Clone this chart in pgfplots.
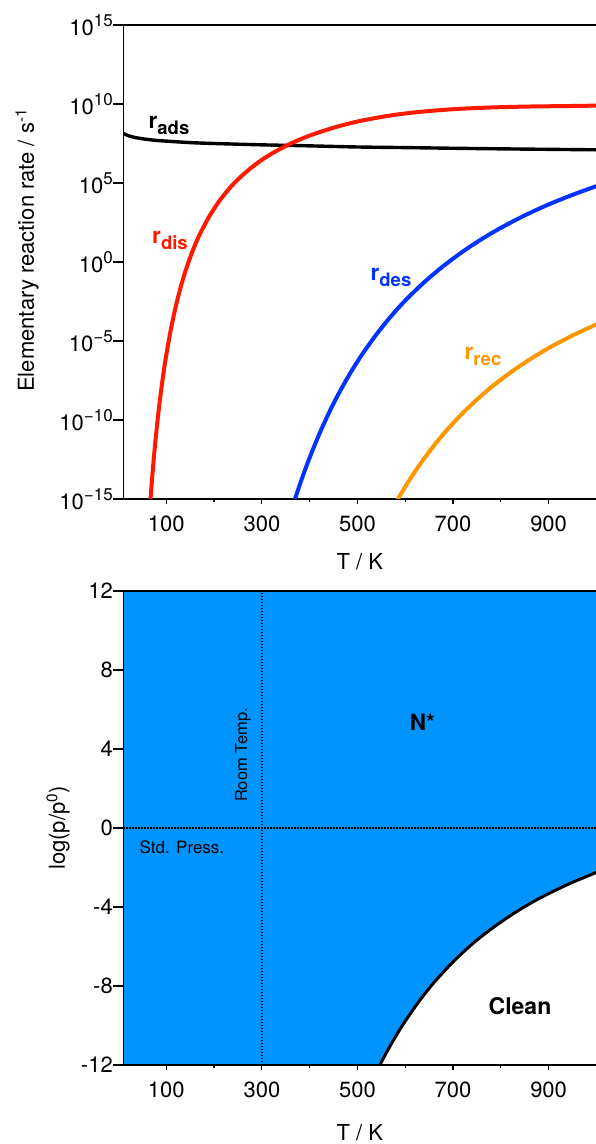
\documentclass[border=0pt]{standalone}
\usepackage{fontspec}
\setmainfont{TeX Gyre Heros}
\usepackage{pgfplots}
\pgfplotsset{compat=1.18}
\definecolor{cred}{RGB}{255,25,0}
\definecolor{cblue}{RGB}{0,51,255}
\definecolor{corange}{RGB}{255,150,0}
\definecolor{cfill}{RGB}{0,148,255}
\newcommand{\ex}[1]{10\raisebox{0.42em}{\fontsize{17}{17}\selectfont #1}}
\newcommand{\rr}[1]{r\raisebox{-0.26em}{\fontsize{18.5}{18.5}\selectfont #1}}
\pgfplotsset{
 base/.style={
  scale only axis, width=473.1pt, height=474pt,
  xmin=10, xmax=1000,
  xtick={100,300,500,700,900},
  minor xtick={200,400,600,800},
  ytick=\empty,
  tick align=outside, tick pos=left,
  major tick length=5pt, minor tick length=3pt,
  axis line style={line width=1.2pt},
  every tick/.style={black, line width=1.2pt},
  tick label style={font=\fontsize{22}{26}\selectfont},
  xticklabel style={yshift=-8pt},
  /pgf/number format/assume math mode=true,
  label style={font=\fontsize{22}{26}\selectfont},
  extra y tick style={major tick length=10pt, yticklabel style={xshift=3pt}},
 }
}
\begin{document}
\begin{tikzpicture}
\useasboundingbox (0,0) rectangle (595pt,1144pt);
% ---------------- top chart ----------------
\begin{axis}[base, at={(123.3pt,645pt)}, anchor=south west,
  ymode=log, ymin=1e-15, ymax=1e15,
  extra y ticks={1e-15,1e-10,1e-5,1,1e5,1e10,1e15},
  extra y tick labels={\ex{−15},\ex{−10},\ex{−5},\ex{0},\ex{5},\ex{10},\ex{15}},
  xlabel={T / K},
  xlabel style={at={(axis description cs:0.5,-0.133)}, anchor=center},
  ylabel={Elementary reaction rate / s\textsuperscript{-1}},
  ylabel style={at={(axis description cs:-0.2035,0.525)}, anchor=center},
]
\addplot[black, line width=3.4pt, smooth] coordinates {
(10,1.41e8) (15,1.16e8) (20,1.0e8) (30,8.1e7) (50,6.3e7) (75,5.1e7) (100,4.47e7)
(150,3.6e7) (200,3.16e7) (300,2.6e7) (400,2.24e7) (500,1.9e7) (600,1.74e7)
(700,1.58e7) (800,1.45e7) (900,1.35e7) (1000,1.26e7)};
\addplot[cred, line width=4pt, smooth] coordinates {
(65,1.48e-16) (68,2.63e-15) (72,8.71e-14) (76,1.95e-12) (80,3.16e-11) (85,7.41e-10)
(90,1.17e-8) (95,1.45e-7) (100,1.35e-6) (110,6.46e-5) (120,1.62e-3) (130,2.51e-2)
(140,0.263) (155,5.01) (170,56.2) (190,776) (210,6.61e3) (235,5.75e4) (260,3.24e5)
(290,1.78e6) (320,7.08e6) (360,3.09e7) (400,1.0e8) (450,3.16e8) (500,7.76e8)
(560,1.70e9) (620,2.95e9) (700,4.68e9) (780,6.03e9) (860,6.92e9) (940,7.41e9) (1000,7.9e9)};
\addplot[cblue, line width=4pt, smooth] coordinates {
(355,3.89e-17) (370,1.15e-15) (385,2.51e-14) (400,4.17e-13) (420,1.26e-11) (440,2.69e-10)
(460,4.27e-9) (485,9.33e-8) (510,1.45e-6) (540,2.69e-5) (570,3.63e-4) (600,3.63e-3)
(640,5.37e-2) (680,0.562) (720,4.47) (760,28.2) (800,145) (850,891) (900,4.37e3)
(950,1.78e4) (1000,6.31e4)};
\addplot[corange, line width=4pt, smooth] coordinates {
(570,1.58e-16) (585,1.02e-15) (600,6.03e-15) (620,5.25e-14) (640,3.80e-13) (665,3.72e-12)
(690,2.88e-11) (720,2.69e-10) (750,1.95e-9) (780,1.20e-8) (820,1.0e-7) (860,6.61e-7)
(900,3.55e-6) (950,2.24e-5) (1000,1.12e-4)};
\node[font=\bfseries\fontsize{22.5}{26}\selectfont, text=black] at (rel axis cs:0.0966,0.789) {\rr{ads}};
\node[font=\bfseries\fontsize{22.5}{26}\selectfont, text=cred] at (rel axis cs:0.0987,0.5464) {\rr{dis}};
\node[font=\bfseries\fontsize{22.5}{26}\selectfont, text=cblue] at (rel axis cs:0.5658,0.4673) {\rr{des}};
\node[font=\bfseries\fontsize{22.5}{26}\selectfont, text=corange] at (rel axis cs:0.7603,0.3002) {\rr{rec}};
\end{axis}
% ---------------- bottom chart ----------------
\begin{axis}[base, at={(123.3pt,79pt)}, anchor=south west,
  ymin=-12, ymax=12,
  axis on top,
  axis background/.style={fill=cfill},
  extra y ticks={-12,-8,-4,0,4,8,12},
  extra y tick labels={-12,-8,-4,0,4,8,12},
  xlabel={T / K},
  xlabel style={at={(axis description cs:0.5,-0.142)}, anchor=center},
  ylabel={log(p/p\textsuperscript{0})},
  ylabel style={at={(axis description cs:-0.138,0.5)}, anchor=center},
]
\addplot[draw=none, fill=white, smooth] coordinates {
(547.1,-12) (560,-11.40) (580,-10.55) (600,-9.78) (630,-8.74) (660,-7.83) (700,-6.78)
(740,-5.88) (780,-5.11) (830,-4.28) (880,-3.57) (940,-2.86) (1000,-2.25)}
 -- (axis cs:1000,-12) -- cycle;
\addplot[black, line width=3pt, smooth] coordinates {
(547.1,-12) (560,-11.40) (580,-10.55) (600,-9.78) (630,-8.74) (660,-7.83) (700,-6.78)
(740,-5.88) (780,-5.11) (830,-4.28) (880,-3.57) (940,-2.86) (1000,-2.25)};
\addplot[black, line width=1.4pt, dash pattern=on 1.4pt off 1.6pt] coordinates {(300,-12) (300,12)};
\addplot[black, line width=1.4pt, dash pattern=on 1.4pt off 1.6pt] coordinates {(10,0) (1000,0)};
\node[font=\fontsize{16.5}{19}\selectfont, rotate=90] at (rel axis cs:0.253,0.654) {Room Temp.};
\node[font=\fontsize{17}{20}\selectfont] at (rel axis cs:0.124,0.460) {Std. Press.};
\node[font=\bfseries\fontsize{22.5}{26}\selectfont] at (rel axis cs:0.632,0.7226) {N*};
\node[font=\bfseries\fontsize{23}{26}\selectfont] at (rel axis cs:0.8385,0.1245) {Clean};
\end{axis}
\end{tikzpicture}
\end{document}
